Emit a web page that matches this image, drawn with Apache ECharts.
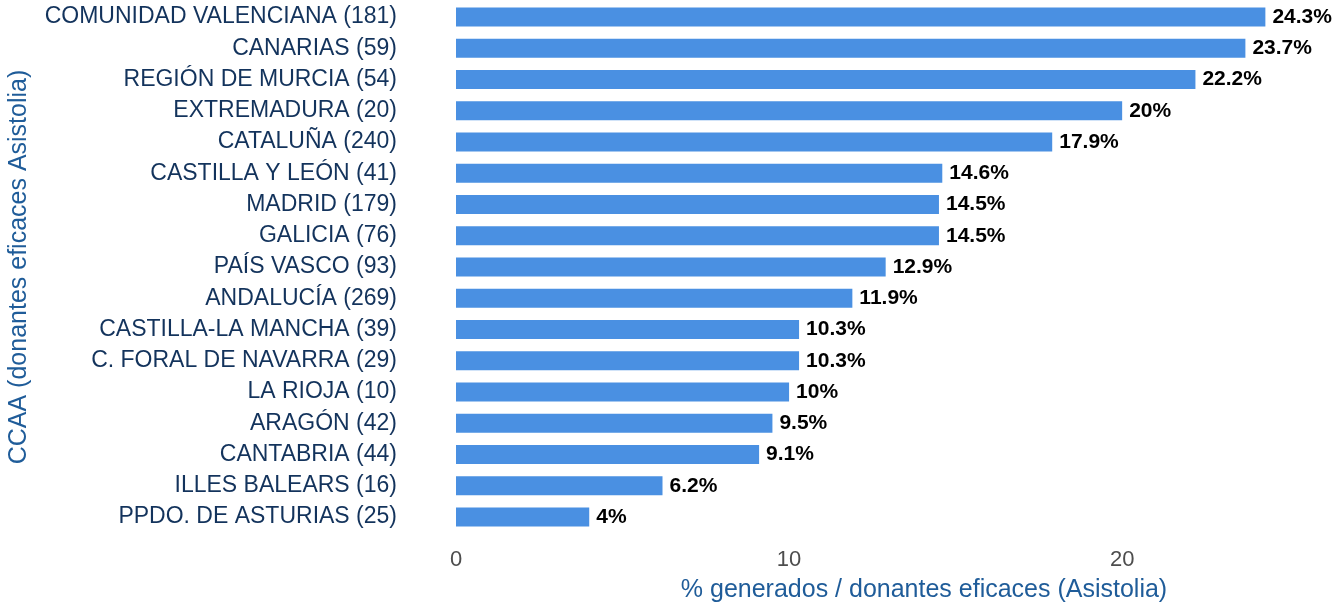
<!DOCTYPE html>
<html>
<head>
<meta charset="utf-8">
<script src="https://cdn.jsdelivr.net/npm/echarts@6/dist/echarts.min.js"></script>
<style>
  html, body { margin: 0; padding: 0; background: #fff; }
  #chart { width: 1341px; height: 602px; }
</style>
</head>
<body>
<div id="chart"></div>
<script>
// comunidades, de arriba a abajo
const regiones = [
  'COMUNIDAD VALENCIANA (181)', 'CANARIAS (59)', 'REGIÓN DE MURCIA (54)',
  'EXTREMADURA (20)', 'CATALUÑA (240)', 'CASTILLA Y LEÓN (41)', 'MADRID (179)',
  'GALICIA (76)', 'PAÍS VASCO (93)', 'ANDALUCÍA (269)', 'CASTILLA-LA MANCHA (39)',
  'C. FORAL DE NAVARRA (29)', 'LA RIOJA (10)', 'ARAGÓN (42)', 'CANTABRIA (44)',
  'ILLES BALEARS (16)', 'PPDO. DE ASTURIAS (25)'
]
const porcentajes = [24.3, 23.7, 22.2, 20, 17.9, 14.6, 14.5, 14.5, 12.9, 11.9, 10.3, 10.3, 10, 9.5, 9.1, 6.2, 4]
const ticksX = [0, 10, 20]

const font = '"Liberation Sans", Arial, sans-serif'
let myChart = echarts.init(document.getElementById('chart'))
myChart.setOption({
  animation: false,
  textStyle: { fontFamily: font },
  title: {
    text: '% generados / donantes eficaces (Asistolia)',
    left: 919,
    top: 573,
    textAlign: 'center',
    textStyle: { color: '#1f5c99', fontSize: 25, fontWeight: 'normal', fontFamily: font }
  },
  grid: { left: 456, right: 19, top: 1.4, bottom: 69.4, outerBoundsMode: 'none' },
  xAxis: {
    type: 'value',
    min: 0,
    max: 26,
    interval: 10,
    axisLine: { show: false },
    axisTick: { show: false },
    splitLine: { show: false },
    axisLabel: {
      color: '#4d4d4d',
      fontSize: 22,
      margin: 16,
      fontFamily: font,
      formatter: v => ticksX.indexOf(v) >= 0 ? String(v) : ''
    }
  },
  yAxis: {
    type: 'category',
    inverse: true,
    data: regiones,
    name: 'CCAA (donantes eficaces Asistolia)',
    nameLocation: 'middle',
    nameGap: 424,
    nameTextStyle: { color: '#1f5c99', fontSize: 25, fontFamily: font },
    axisLine: { show: false },
    axisTick: { show: false },
    axisLabel: { color: '#13335c', fontSize: 23, margin: 59, fontFamily: font }
  },
  series: [{
    type: 'bar',
    data: porcentajes,
    barCategoryGap: '39%',
    itemStyle: { color: '#4a90e2' },
    label: {
      show: true,
      position: 'right',
      distance: 7,
      color: '#000',
      fontSize: 21,
      fontWeight: 'bold',
      fontFamily: font,
      formatter: p => p.value + '%'
    }
  }]
})
</script>
</body>
</html>
